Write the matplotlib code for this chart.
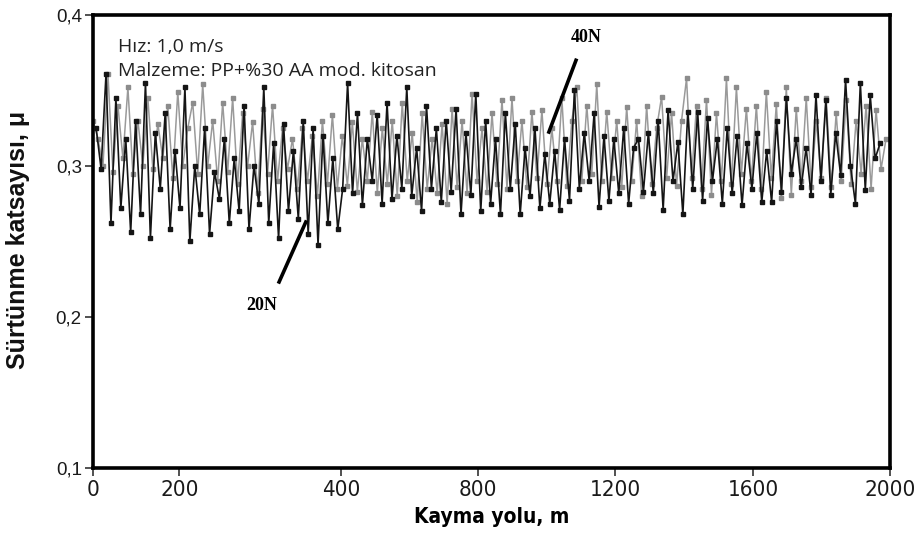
import numpy as np
import matplotlib
matplotlib.use("Agg")
import matplotlib.pyplot as plt
from matplotlib import font_manager

# Friction coefficient readings, 20 N load (black) and 40 N load (grey)
mu_20n = [
    0.325, 0.298, 0.361, 0.262, 0.345, 0.272, 0.318, 0.256, 0.330, 0.268,
    0.355, 0.252, 0.322, 0.285, 0.335, 0.258, 0.310, 0.272, 0.352, 0.250,
    0.300, 0.268, 0.325, 0.255, 0.296, 0.278, 0.318, 0.262, 0.305, 0.270,
    0.340, 0.258, 0.300, 0.275, 0.352, 0.262, 0.315, 0.252, 0.328, 0.270,
    0.310, 0.265, 0.330, 0.255, 0.325, 0.248, 0.320, 0.262, 0.305, 0.258,
    0.285, 0.355, 0.282, 0.335, 0.274, 0.318, 0.290, 0.334, 0.275, 0.342,
    0.278, 0.320, 0.285, 0.352, 0.280, 0.312, 0.270, 0.340, 0.285, 0.325,
    0.276, 0.330, 0.283, 0.338, 0.268, 0.322, 0.281, 0.348, 0.270, 0.330,
    0.275, 0.318, 0.268, 0.335, 0.285, 0.328, 0.268, 0.312, 0.280, 0.325,
    0.272, 0.308, 0.275, 0.310, 0.271, 0.318, 0.277, 0.350, 0.285, 0.322,
    0.290, 0.335, 0.273, 0.320, 0.277, 0.318, 0.282, 0.325, 0.275, 0.312,
    0.318, 0.283, 0.322, 0.282, 0.330, 0.271, 0.337, 0.290, 0.316, 0.268,
    0.336, 0.285, 0.336, 0.277, 0.332, 0.290, 0.318, 0.275, 0.325, 0.282,
    0.320, 0.274, 0.315, 0.285, 0.322, 0.276, 0.310, 0.276, 0.330, 0.283,
    0.345, 0.295, 0.318, 0.286, 0.312, 0.281, 0.347, 0.290, 0.344, 0.281,
    0.322, 0.294, 0.357, 0.300, 0.275, 0.355, 0.284, 0.347, 0.305, 0.315,
]
mu_40n = [
    0.330, 0.318, 0.300, 0.361, 0.296, 0.340, 0.305, 0.352, 0.295, 0.330,
    0.300, 0.345, 0.298, 0.328, 0.305, 0.340, 0.292, 0.349, 0.300, 0.325,
    0.342, 0.295, 0.354, 0.300, 0.330, 0.290, 0.342, 0.296, 0.345, 0.288,
    0.335, 0.300, 0.329, 0.282, 0.338, 0.295, 0.340, 0.290, 0.325, 0.298,
    0.318, 0.285, 0.325, 0.290, 0.320, 0.280, 0.330, 0.288, 0.334, 0.285,
    0.320, 0.287, 0.329, 0.283, 0.318, 0.290, 0.336, 0.282, 0.325, 0.288,
    0.330, 0.280, 0.342, 0.290, 0.322, 0.276, 0.335, 0.285, 0.318, 0.282,
    0.328, 0.275, 0.338, 0.286, 0.330, 0.282, 0.348, 0.290, 0.325, 0.283,
    0.335, 0.288, 0.344, 0.285, 0.345, 0.290, 0.330, 0.286, 0.336, 0.292,
    0.337, 0.288, 0.325, 0.290, 0.345, 0.287, 0.330, 0.352, 0.290, 0.340,
    0.295, 0.354, 0.290, 0.336, 0.292, 0.330, 0.286, 0.339, 0.290, 0.330,
    0.280, 0.340, 0.288, 0.325, 0.346, 0.292, 0.335, 0.287, 0.330, 0.358,
    0.292, 0.340, 0.285, 0.344, 0.281, 0.335, 0.290, 0.358, 0.288, 0.352,
    0.295, 0.338, 0.290, 0.340, 0.285, 0.349, 0.292, 0.341, 0.279, 0.352,
    0.281, 0.338, 0.290, 0.345, 0.286, 0.330, 0.292, 0.345, 0.286, 0.335,
    0.290, 0.344, 0.288, 0.330, 0.295, 0.340, 0.285, 0.337, 0.298, 0.318,
]
dist_20n_start, dist_20n_end = 8, 1975
dist_40n_start, dist_40n_end = 0, 1990

xtick_pos = [0, 217, 622, 966, 1310, 1656, 2000]
xtick_labels = ["0", "200", "400", "800", "1200", "1600", "2000"]
ytick_pos = [0.1, 0.2, 0.3, 0.4]
ytick_labels = ["0,1", "0,2", "0,3", "0,4"]

x20 = np.linspace(dist_20n_start, dist_20n_end, len(mu_20n))
x40 = np.linspace(dist_40n_start, dist_40n_end, len(mu_40n))

# narrow sans for the distance axis
narrow_file = font_manager.findfont(
    font_manager.FontProperties(family="DejaVu Sans", stretch="condensed"))
narrow_bold_file = font_manager.findfont(
    font_manager.FontProperties(family="DejaVu Sans", stretch="condensed", weight="bold"))

fig = plt.figure(figsize=(9.17, 5.45), dpi=100)
ax = fig.add_axes([0.1014, 0.1413, 0.8692, 0.8312])

ax.plot(x40, mu_40n, color="#9a9a9a", lw=1.1, marker="s", ms=3.2,
        mfc="#8c8c8c", mec="#8c8c8c", zorder=2)
ax.plot(x20, mu_20n, color="#151515", lw=1.2, marker="s", ms=3.4,
        mfc="#151515", mec="#151515", zorder=3)

ax.set_xlim(0, 2000)
ax.set_ylim(0.1, 0.4)
ax.set_xticks(xtick_pos)
ax.set_xticklabels(xtick_labels,
                   fontproperties=font_manager.FontProperties(fname=narrow_file, size=16))
ax.set_yticks(ytick_pos)
ax.set_yticklabels(ytick_labels, family=["Liberation Sans", "DejaVu Sans"], fontsize=13.5)
ax.tick_params(axis="both", direction="out", length=6, width=1.2, color="#333333",
               labelcolor="#1a1a1a")
ax.tick_params(axis="x", pad=3)
ax.tick_params(axis="y", pad=2)
for side in ("top", "right", "bottom", "left"):
    ax.spines[side].set_linewidth(2.6)
    ax.spines[side].set_color("black")

ax.set_xlabel("Kayma yolu, m",
              fontproperties=font_manager.FontProperties(fname=narrow_bold_file, size=15),
              labelpad=5)
fig.text(18 / 917, 1 - 240 / 545, "Sürtünme katsayısı, μ", rotation=90,
         ha="center", va="center", family=["Liberation Sans", "DejaVu Sans"],
         fontweight="bold", fontsize=18, color="#111111")

ax.text(0.031, 0.918, "Hız: 1,0 m/s", transform=ax.transAxes, va="baseline",
        family=["Open Sans", "DejaVu Sans"], fontsize=14, color="#222222")
ax.text(0.031, 0.865, "Malzeme: PP+%30 AA mod. kitosan", transform=ax.transAxes,
        va="baseline", family=["Open Sans", "DejaVu Sans"], fontsize=14,
        color="#222222")

# Load labels with pointer lines
ax.plot([1144, 1212], [0.3225, 0.370], color="black", lw=2.6, zorder=4)
ax.text(1237, 0.385, "40N", ha="center", va="center",
        family=["Liberation Serif", "DejaVu Serif"], fontweight="bold", fontsize=13)
ax.plot([467, 534], [0.2232, 0.2629], color="black", lw=2.6, zorder=4)
ax.text(424, 0.2073, "20N", ha="center", va="center",
        family=["Liberation Serif", "DejaVu Serif"], fontweight="bold", fontsize=13)

fig.savefig("out.png", dpi=100)
